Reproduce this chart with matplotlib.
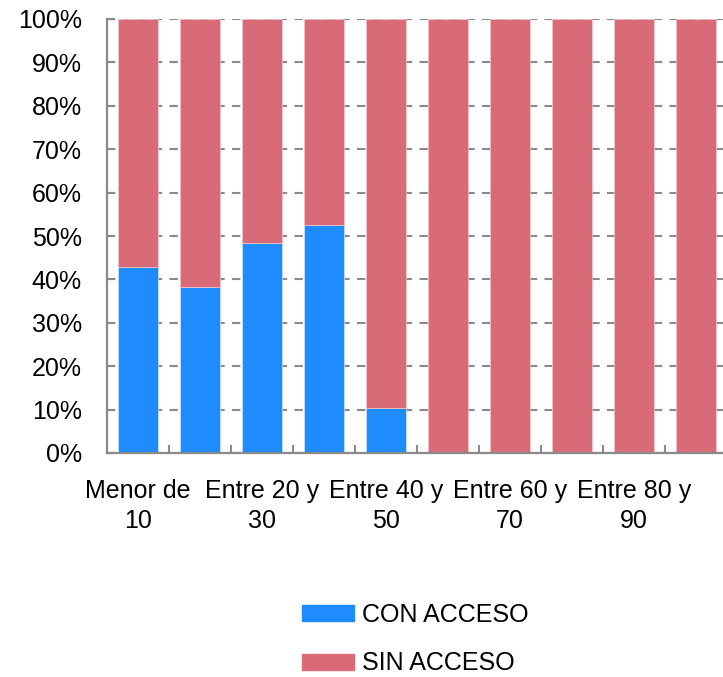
import matplotlib.pyplot as plt
import numpy as np
from matplotlib.patches import Patch

# Share of each age group with / without access
categorias = ['Menor de 10', 'Entre 10 y 20', 'Entre 20 y 30', 'Entre 30 y 40',
              'Entre 40 y 50', 'Entre 50 y 60', 'Entre 60 y 70', 'Entre 70 y 80',
              'Entre 80 y 90', 'Mayor de 90']
con_acceso = [42.8, 38.3, 48.3, 52.6, 10.3, 0, 0, 0, 0, 0]
sin_acceso = [100 - v for v in con_acceso]
yticks = list(range(0, 101, 10))

azul = '#1e8cff'
rojo = '#d96b78'
gris = '#8a8a8a'

plt.rcParams['font.family'] = ['Liberation Sans', 'DejaVu Sans']
plt.rcParams['font.size'] = 18

fig = plt.figure(figsize=(7.23, 6.77), dpi=100)
ax = fig.add_axes([107 / 723, 224 / 677, 620 / 723, 434 / 677])

x = np.arange(len(categorias))
ax.bar(x, con_acceso, width=0.645, color=azul, edgecolor='#cfe6ff', linewidth=0.5)
ax.bar(x, sin_acceso, bottom=con_acceso, width=0.645, color=rojo,
       edgecolor='#f2c6cc', linewidth=0.5)

ax.set_xlim(-0.5, len(categorias) - 0.5)
ax.set_ylim(0, 100)
ax.set_axisbelow(True)
ax.yaxis.grid(True, color=gris, linestyle=(0, (4, 3.5)), linewidth=1.5)

ax.set_yticks(yticks)
ax.set_yticklabels([f'{v}%' for v in yticks])
ax.tick_params(axis='y', direction='in', length=6, width=1.5, color=gris, pad=18)

# only every other label fits under the bars
ax.set_xticks(x[::2])
ax.set_xticklabels([c.rsplit(' ', 1)[0] + '\n' + c.rsplit(' ', 1)[1] for c in categorias[::2]],
                   linespacing=1.3)
ax.tick_params(axis='x', which='major', length=0, pad=19)
ax.set_xticks(x[:-1] + 0.5, minor=True)
ax.tick_params(axis='x', which='minor', direction='in', length=6, width=1.5, color=gris)

for s in ['top', 'right']:
    ax.spines[s].set_visible(False)
for s in ['left', 'bottom']:
    ax.spines[s].set_color(gris)
    ax.spines[s].set_linewidth(1.6)

handles = [Patch(color=azul, label='CON ACCESO'), Patch(color=rojo, label='SIN ACCESO')]
fig.legend(handles=handles, loc='center left', bbox_to_anchor=(302 / 723, 38 / 677),
           frameon=False, borderpad=0, borderaxespad=0, handlelength=2.08,
           handleheight=0.6, handletextpad=0.32, labelspacing=1.0)

fig.savefig('out.png', dpi=100)
